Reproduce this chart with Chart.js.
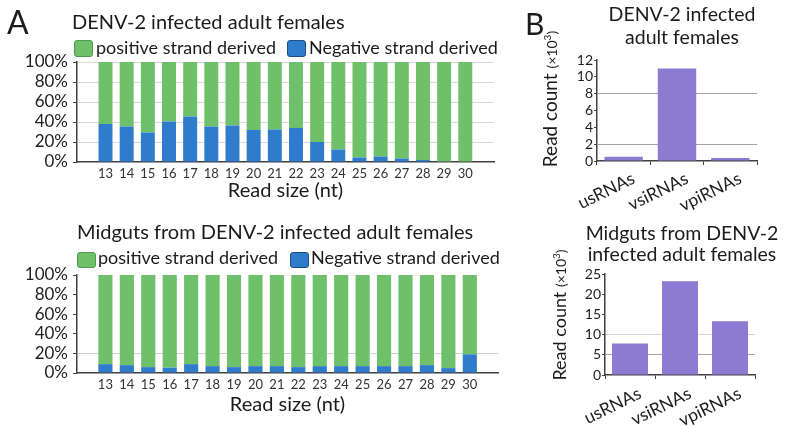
<!DOCTYPE html>
<html>
<head>
<meta charset="utf-8">
<script src="https://cdn.jsdelivr.net/npm/chart.js@4.4.1/dist/chart.umd.min.js"></script>
<style>
  body { margin: 0; background: #fff; }
  #fig { position: relative; width: 788px; height: 426px; overflow: hidden; font-family: Lato, sans-serif; color: #1b1b1b; }
  #fig canvas { position: absolute; }
  .t { position: absolute; white-space: nowrap; }
  .box { position: absolute; border-radius: 3px; box-sizing: border-box; }
  .ytitle { position: absolute; white-space: nowrap; transform: translate(-50%, -50%) rotate(-90deg); line-height: 1; }
  .ytitle small { font-size: 14px; }
  .ytitle sup { font-size: 10px; vertical-align: 6px; }
</style>
</head>
<body>
<div id="fig">
  <canvas id="strandWhole" width="520" height="200" style="left:0;top:0"></canvas>
  <canvas id="strandMidgut" width="520" height="226" style="left:0;top:200px"></canvas>
  <canvas id="countWhole" width="268" height="232" style="left:520px;top:0"></canvas>
  <canvas id="countMidgut" width="268" height="216" style="left:520px;top:210px"></canvas>

  <!-- panel letters -->
  <div class="t" style="left:7px;top:5px;font-size:32px;line-height:34px">A</div>
  <div class="t" style="left:525px;top:7px;font-size:30px;line-height:32px">B</div>

  <!-- panel A titles and legends -->
  <div class="t" style="left:72px;top:11px;font-size:20px;line-height:20px">DENV-2 infected adult females</div>
  <div class="box" style="left:74px;top:40px;width:19px;height:17px;background:#6fc06b;border:1px solid #4f9a4c"></div>
  <div class="t" style="left:96px;top:37px;font-size:18px;line-height:20px">positive strand derived</div>
  <div class="box" style="left:287px;top:40px;width:19px;height:17px;background:#2f7bcc;border:1px solid #1d4f82"></div>
  <div class="t" style="left:309px;top:37px;font-size:18px;line-height:20px">Negative strand derived</div>

  <div class="t" style="left:77px;top:221px;font-size:20px;line-height:20px">Midguts from DENV-2 infected adult females</div>
  <div class="box" style="left:77px;top:252px;width:19px;height:16px;background:#6fc06b;border:1px solid #4f9a4c"></div>
  <div class="t" style="left:98px;top:247px;font-size:18px;line-height:20px">positive strand derived</div>
  <div class="box" style="left:290px;top:252px;width:19px;height:16px;background:#2f7bcc;border:1px solid #1d4f82"></div>
  <div class="t" style="left:311px;top:247px;font-size:18px;line-height:20px">Negative strand derived</div>

  <!-- panel B titles -->
  <div class="t" style="left:682px;top:3px;transform:translateX(-50%);text-align:center;font-size:19.5px;line-height:22.5px">DENV-2 infected<br>adult females</div>
  <div class="t" style="left:682px;top:222px;transform:translateX(-50%);text-align:center;font-size:19.5px;line-height:21px">Midguts from DENV-2<br>infected adult females</div>
  <div class="ytitle" style="left:549px;top:99px;font-size:19px">Read count <small>(×10<sup>3</sup>)</small></div>
  <div class="ytitle" style="left:559px;top:315px;font-size:18px">Read count <small>(×10<sup>3</sup>)</small></div>
</div>

<script>
// read sizes (nt) on the x axis of panel A
const readSizes = [13, 14, 15, 16, 17, 18, 19, 20, 21, 22, 23, 24, 25, 26, 27, 28, 29, 30];

// % of reads by strand, whole adult females
const negWhole = [38, 35.5, 29.5, 40.5, 45.5, 35.5, 36.5, 32, 32.5, 34, 20, 12.5, 4.5, 5.5, 3.5, 2, 0, 0];
const posWhole = [62, 64.5, 70.5, 59.5, 54.5, 64.5, 63.5, 68, 67.5, 66, 80, 87.5, 95.5, 94.5, 96.5, 98, 100, 100];

// % of reads by strand, midguts
const negMidgut = [9, 8, 6, 5.5, 9, 7, 6, 7, 7, 6, 7, 7, 7, 7, 7, 8, 5, 19];
const posMidgut = [91, 92, 94, 94.5, 91, 93, 94, 93, 93, 94, 93, 93, 93, 93, 93, 92, 95, 81];

// panel B read counts (x10^3)
const rnaClasses = ['usRNAs', 'vsiRNAs', 'vpiRNAs'];
const countsWhole = [0.5, 11.0, 0.35];
const countsMidgut = [7.8, 23.2, 13.3];

const GREEN = '#6fc06b';
const BLUE = '#2f7bcc';
const PURPLE = '#8c7bd2';
const AXIS = '#404040';

Chart.defaults.font.family = 'Lato, sans-serif';
Chart.defaults.color = '#1e1e1e';

// stacked 100% bars by read size
function strandChart(id, neg, pos, o) {
    return new Chart(document.getElementById(id), {
        type: 'bar',
        data: {
            labels: readSizes,
            datasets: [
                { label: 'Negative strand derived', data: neg, backgroundColor: BLUE, barPercentage: 0.66, categoryPercentage: 1 },
                { label: 'positive strand derived', data: pos, backgroundColor: GREEN, barPercentage: 0.66, categoryPercentage: 1 }
            ]
        },
        options: {
            responsive: false,
            animation: false,
            layout: { padding: { top: o.top, right: o.right, left: 0, bottom: 0 } },
            plugins: { legend: { display: false }, tooltip: { enabled: false } },
            scales: {
                x: {
                    type: 'linear',
                    stacked: true,
                    min: o.xmin,
                    max: o.xmax,
                    afterFit: s => { s.height = o.xh; },
                    grid: { display: true, drawOnChartArea: false, drawTicks: false },
                    border: { color: AXIS, width: 1.5 },
                    ticks: { stepSize: 1, autoSkip: false, includeBounds: false, maxRotation: 0, padding: 4, font: { size: 13 }, color: '#333' },
                    title: { display: true, text: 'Read size (nt)', font: { size: 20 }, color: '#1b1b1b', padding: { top: 0, bottom: o.titlePad } }
                },
                y: {
                    stacked: true,
                    min: 0,
                    max: 100,
                    afterFit: s => { s.width = 77; },
                    grid: { color: o.gridColor, tickColor: AXIS, tickLength: 4 },
                    border: { color: AXIS, width: 1.5 },
                    ticks: { stepSize: 20, autoSkip: false, padding: 5, font: { size: 17 }, callback: v => v + '%' }
                }
            }
        }
    });
}

// simple count bars for panel B
function countChart(id, values, o) {
    return new Chart(document.getElementById(id), {
        type: 'bar',
        data: {
            labels: rnaClasses,
            datasets: [{ data: values, backgroundColor: PURPLE, barPercentage: 0.72, categoryPercentage: 1 }]
        },
        options: {
            responsive: false,
            animation: false,
            layout: { padding: { top: o.top, right: o.right, left: 0, bottom: 0 } },
            plugins: { legend: { display: false }, tooltip: { enabled: false } },
            scales: {
                x: {
                    afterFit: s => { s.height = o.xh; },
                    grid: { offset: true, drawOnChartArea: false, tickLength: 4, color: AXIS },
                    border: { color: AXIS, width: 1.5 },
                    ticks: { autoSkip: false, minRotation: 26, maxRotation: 26, padding: o.labelPad, labelOffset: 10, font: { size: 17.5 }, color: '#1e1e1e' }
                },
                y: {
                    min: 0,
                    max: o.ymax,
                    afterFit: s => { s.width = o.yw; },
                    grid: { color: o.gridColor, tickColor: AXIS, tickLength: 3 },
                    border: { color: AXIS, width: 1.5 },
                    ticks: { stepSize: o.step, autoSkip: false, padding: 1, font: { size: 14 } }
                }
            }
        }
    });
}

strandChart('strandWhole', negWhole, posWhole, {
    top: 62, right: 26, xh: 38, xmin: 12.2, xmax: 30.81, titlePad: -3,
    gridColor: c => c.tick.value === 0 ? 'rgba(0,0,0,0)' : '#d9d9d9'
});

strandChart('strandMidgut', negMidgut, posMidgut, {
    top: 75, right: 22, xh: 53, xmin: 12.22, xmax: 30.77, titlePad: 9,
    gridColor: c => c.tick.value === 20 ? '#cfcfcf' : 'rgba(0,0,0,0)'
});

countChart('countWhole', countsWhole, {
    top: 60, right: 31, xh: 71, yw: 77, ymax: 12, step: 2, labelPad: 3,
    gridColor: c => (c.tick.value === 2 || c.tick.value === 8) ? '#a3a3a3' : 'rgba(0,0,0,0)'
});

countChart('countMidgut', countsMidgut, {
    top: 64, right: 33, xh: 51, yw: 85, ymax: 25, step: 5, labelPad: 4,
    gridColor: c => c.tick.value === 5 ? '#a3a3a3' : (c.tick.value === 10 ? '#d3d3d3' : 'rgba(0,0,0,0)')
});
</script>
</body>
</html>
